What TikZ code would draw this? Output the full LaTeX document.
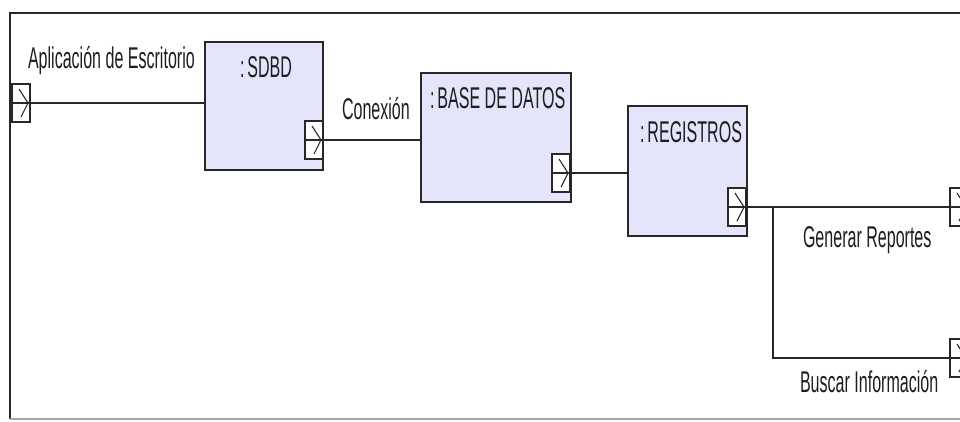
\documentclass[tikz,border=0pt]{standalone}
\usepackage{fontspec}
\setmainfont[FakeStretch=0.535]{Liberation Sans}
\definecolor{lav}{RGB}{228,228,250}
\definecolor{edge}{RGB}{40,40,40}
\definecolor{txt}{RGB}{30,30,30}
\begin{document}
\begin{tikzpicture}[x=1pt,y=-1pt,
  every node/.style={inner sep=0pt,outer sep=0pt},
  lbl/.style={anchor=base west,font=\fontsize{30}{32}\selectfont,text=txt},
  comp/.style={draw=edge,fill=lav,line width=1.8pt,anchor=north west},
  portbox/.style={draw=edge,fill=white,line width=1.4pt,minimum width=18pt,minimum height=38pt,anchor=north west,
    path picture={
      \draw[edge,line width=1.4pt] (path picture bounding box.west) -- (path picture bounding box.east);
      \draw[edge,line width=1.1pt] ([shift={(7pt,-5pt)}]path picture bounding box.north west)
        -- ([shift={(-2pt,0pt)}]path picture bounding box.east)
        -- ([shift={(9pt,5pt)}]path picture bounding box.south west);
    }},
  wire/.style={draw=edge,line width=1.6pt}]
\useasboundingbox (0,0) rectangle (960,421);
\fill[white] (0,0) rectangle (960,421);
\clip (0,0) rectangle (960,421);
% frame
\draw[edge,line width=2.4pt] (962,13) -- (10,13) -- (10,419);
\draw[gray!70,line width=2pt] (10,419) -- (962,419);
% components
\node[comp,minimum width=118pt,minimum height=128pt] (sdbd) at (205,42) {};
\node[comp,minimum width=150pt,minimum height=129pt] (base) at (421,73) {};
\node[comp,minimum width=119pt,minimum height=130pt] (reg) at (628,106) {};
% titles
\node[lbl] (tsdbd) at (240,77) {:\hspace{3pt}SDBD};
\node[lbl] (tbase) at (430,108) {:\hspace{3pt}BASE DE DATOS};
\node[lbl] (treg) at (640,142) {:\hspace{3pt}REGISTROS};
% ports
\node[portbox] (p0) at (12,84) {};
\node[portbox] (p1) at (305,121) {};
\node[portbox] (p2) at (552,154) {};
\node[portbox] (p3) at (728,188) {};
\node[portbox] (p4) at (950,188) {};
\node[portbox] (p5) at (950,339) {};
% connectors
\draw[wire] (p0.east) -- (p0.east -| sdbd.west);
\draw[wire] (p1.east) -- (p1.east -| base.west);
\draw[wire] (p2.east) -- (p2.east -| reg.west);
\draw[wire] (p3.east) -- (p4.west);
\coordinate (br) at (773,207);
\draw[wire] (br) |- (p5.west);
% labels
\node[lbl] (lapp) at (28,68) {Aplicación de Escritorio};
\node[lbl] (lcon) at (342,119) {Conexión};
\node[lbl] (lgen) at (803,247) {Generar Reportes};
\node[lbl] (lbus) at (800,392) {Buscar Información};
\end{tikzpicture}
\end{document}
